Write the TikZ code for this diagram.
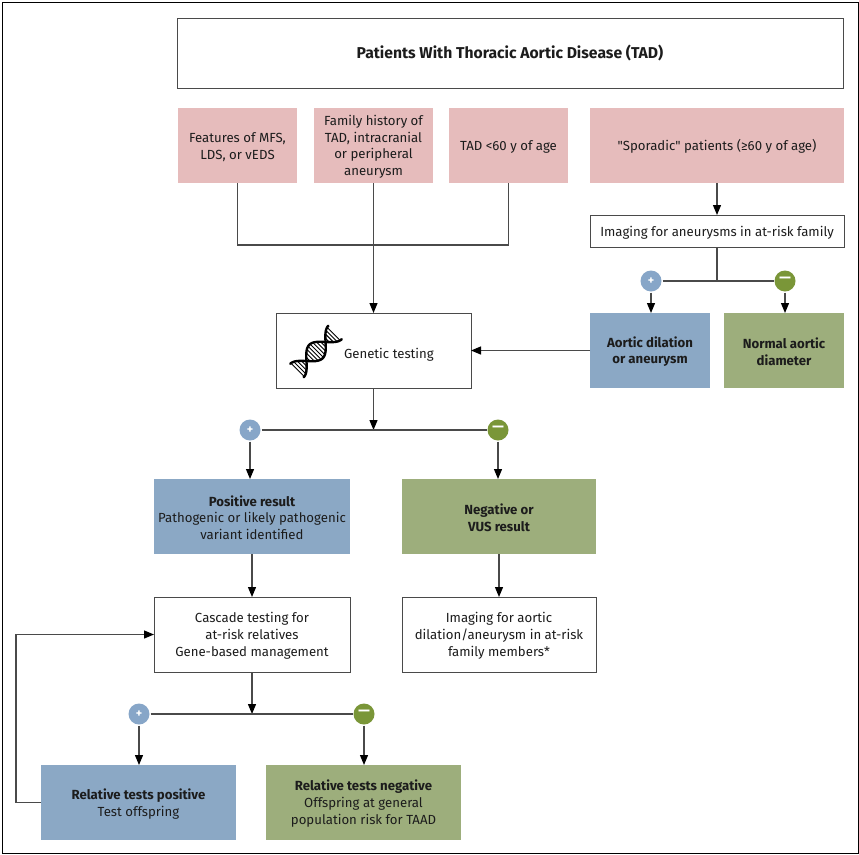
\documentclass[tikz,border=0pt]{standalone}
\usepackage{fontspec}
\setmainfont{Fira Sans}[Ligatures=TeXOff]
\usetikzlibrary{arrows.meta,calc}
\definecolor{pinkbox}{HTML}{E6BCBC}
\definecolor{bluebox}{HTML}{8BA8C5}
\definecolor{greenbox}{HTML}{9DAE7C}
\definecolor{plusc}{HTML}{87A6C8}
\definecolor{minusc}{HTML}{7A9638}
\definecolor{linec}{HTML}{4A4A4A}
\definecolor{textc}{HTML}{1C1C1C}
\tikzset{
  base/.style={inner sep=0pt,outer sep=0pt,align=center,text=textc,font=\fontsize{13.2}{16.8}\selectfont,anchor=north west},
  pinkb/.style={base,fill=pinkbox},
  blueb/.style={base,fill=bluebox},
  greenb/.style={base,fill=greenbox},
  whiteb/.style={base,draw=linec,line width=1pt,fill=white},
  plusn/.style={circle,fill=plusc,text=white,inner sep=0pt,minimum size=21pt,outer sep=1pt,font=\fontsize{12}{12}\selectfont\bfseries},
  minusn/.style={circle,fill=minusc,text=white,inner sep=0pt,minimum size=21pt,outer sep=1pt,font=\fontsize{24}{24}\selectfont},
  conn/.style={draw=linec,line width=1.2pt},
  arr/.style={conn,-{Triangle[width=8pt,length=10pt,color=black]}},
  strand/.style={black,line width=2.4pt,line cap=round},
  rung/.style={black,line width=0.9pt},
}
\newcommand{\bx}[7]{\node[#1,minimum width=#4 pt-#2 pt,minimum height=#5 pt-#3 pt] (#6) at (#2,#3) {\rule{0pt}{13pt}#7};}
\begin{document}
\begin{tikzpicture}[x=1pt,y=-1pt]
\useasboundingbox (0,0) rectangle (859,854);
\fill[white] (0,0) rectangle (859,854);
\node[draw=black,line width=1.3pt,minimum width=856pt,minimum height=851pt,inner sep=0pt,anchor=north west] (frame) at (1.5,1.5) {};

\bx{whiteb}{177}{18}{843}{88}{title}{\fontsize{15.7}{18}\selectfont\bfseries Patients With Thoracic Aortic Disease (TAD)}
\bx{pinkb}{178}{108}{297}{183}{mfs}{Features of MFS,\\LDS, or vEDS}
\bx{pinkb}{314}{108}{433}{183}{fam}{Family history of\\TAD, intracranial\\or peripheral\\aneurysm}
\bx{pinkb}{449}{108}{568}{183}{tad}{TAD <60 y of age}
\bx{pinkb}{590}{108}{844}{183}{spor}{"Sporadic" patients (≥60 y of age)}
\bx{whiteb}{590}{215}{844}{247}{img}{Imaging for aneurysms in at-risk family}
\bx{blueb}{590}{313}{710}{388}{dil}{\bfseries Aortic dilation\\\bfseries or aneurysm}
\bx{greenb}{724}{313}{844}{388}{norm}{\bfseries Normal aortic\\\bfseries diameter}
\bx{whiteb}{276}{313}{471}{388}{gen}{}
\node[base,anchor=west] (genl) at (344,354.5) {Genetic testing};
\bx{blueb}{154}{479}{350}{554}{pos}{{\bfseries Positive result}\\Pathogenic or likely pathogenic\\variant identified}
\bx{greenb}{402}{479}{596}{554}{neg}{\bfseries Negative or\\\bfseries VUS result}
\bx{whiteb}{154}{597}{350}{672}{casc}{Cascade testing for\\at-risk relatives\\Gene-based management}
\bx{whiteb}{402}{597}{596}{672}{imgb}{Imaging for aortic\\dilation/aneurysm in at-risk\\family members*}
\bx{blueb}{41}{765}{236}{840}{rpos}{{\bfseries Relative tests positive}\\Test offspring}
\bx{greenb}{266}{765}{461}{840}{rneg}{{\bfseries Relative tests negative}\\Offspring at general\\population risk for TAAD}

\node[plusn] (p1) at (651,281) {+};
\node[minusn] (m1) at (785,281) {\raisebox{-2.5pt}{–}};
\node[plusn] (p2) at (250,430) {+};
\node[minusn] (m2) at (498,430) {\raisebox{-2.5pt}{–}};
\node[plusn] (p3) at (139,714) {+};
\node[minusn] (m3) at (364,714) {\raisebox{-2.5pt}{–}};

\coordinate (j0) at (373.5,245);
\coordinate (j1) at (717,281);
\coordinate (j2) at (373.5,430);
\coordinate (j3) at (252,714);
\coordinate (loopa) at (16,802.5);
\coordinate (loopb) at (16,634.5);

\draw[conn] (mfs.south) |- (j0) -| (tad.south);
\draw[arr] (fam.south) -- (gen.north);
\draw[arr] (spor.south) -- (img.north);
\draw[conn] (img.south) -- (j1);
\draw[conn] (p1) -- (m1);
\draw[arr] (p1) -- (p1|-dil.north);
\draw[arr] (m1) -- (m1|-norm.north);
\draw[arr] (dil.west) -- (gen.east);
\draw[arr] (gen.south) -- (j2);
\draw[conn] (p2) -- (m2);
\draw[arr] (p2) -- (p2|-pos.north);
\draw[arr] (m2) -- (m2|-neg.north);
\draw[arr] (pos.south) -- (casc.north);
\draw[arr] (neg.south) -- (imgb.north);
\draw[arr] (casc.south) -- (j3);
\draw[conn] (p3) -- (m3);
\draw[arr] (p3) -- (p3|-rpos.north);
\draw[arr] (m3) -- (m3|-rneg.north);
\draw[arr] (rpos.west) -- (loopa) -- (loopb) -- (casc.west);

% DNA icon
\begin{scope}[shift={(316,351.5)},rotate=45]
  \foreach \s in {-26,-23,...,26}{
    \pgfmathsetmacro{\w}{8.6*cos(360*\s/54)}
    \draw[rung] (\s,\w) -- (\s,-\w);
  }
  \draw[strand] plot[domain=-27:27,samples=60,smooth] (\x,{9.5*cos(360*\x/54)});
  \draw[strand] plot[domain=-27:27,samples=60,smooth] (\x,{-9.5*cos(360*\x/54)});
\end{scope}
\end{tikzpicture}
\end{document}
